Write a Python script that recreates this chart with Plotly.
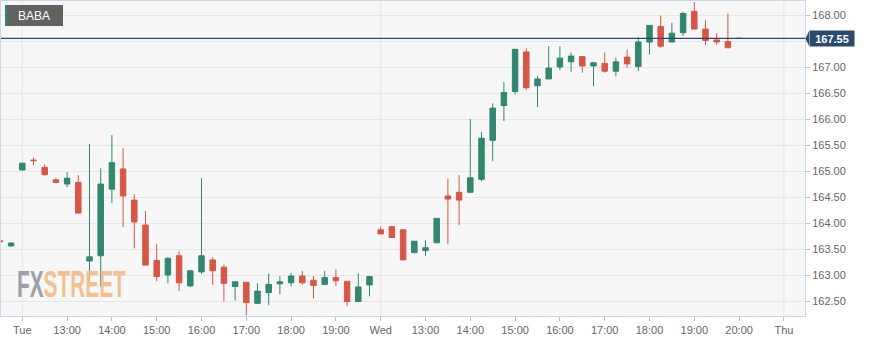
import numpy as np
import plotly.graph_objects as go

# ---------------- data ----------------
symbol = "BABA"
last_price = 167.55

candle_times = (["Mon 19:30", "Mon 19:45"]
                + [f"Tue {h}:{m:02d}" for h in range(12, 20) for m in (0, 15, 30, 45)]
                + [f"Wed {h}:{m:02d}" for h in range(12, 20) for m in (0, 15, 30, 45)]
                + ["Wed 20:00"])

opens = [163.66, 163.56,
         165.02, 165.21, 165.07, 164.83, 164.75, 164.78, 163.27, 163.37,
         164.65, 165.04, 164.44, 163.96, 163.28, 163.00, 163.37, 162.79,
         163.06, 163.29, 163.15, 162.78, 162.86, 162.455, 162.66, 162.83,
         162.85, 162.98, 162.90, 162.82, 162.95, 162.88, 162.49, 162.81,
         163.87, 163.93, 163.87, 163.43, 163.47, 163.62, 164.52, 164.59,
         164.59, 164.84, 165.59, 166.26, 166.53, 167.29, 166.64, 166.77,
         167.00, 167.10, 167.20, 167.02, 167.07, 166.92, 167.19, 167.01,
         167.48, 167.78, 167.48, 167.66, 168.07, 167.73, 167.52, 167.49,
         167.55]
highs = [163.69, 163.62,
         165.15, 165.26, 165.13, 164.87, 164.98, 164.92, 165.52, 165.05,
         165.69, 165.44, 164.55, 164.23, 163.60, 163.34, 163.45, 163.10,
         164.86, 163.34, 163.20, 162.87, 162.86, 162.84, 163.03, 162.98,
         163.04, 163.08, 162.98, 163.08, 163.11, 162.88, 163.03, 162.97,
         163.93, 163.93, 163.87, 163.65, 163.67, 164.09, 164.85, 164.92,
         166.00, 165.75, 166.30, 166.71, 167.34, 167.36, 166.83, 167.40,
         167.40, 167.28, 167.20, 167.10, 167.28, 167.18, 167.33, 167.57,
         167.80, 167.99, 167.85, 168.06, 168.25, 167.90, 167.65, 168.03,
         167.55]
lows = [163.62, 163.54,
        165.01, 165.11, 164.91, 164.77, 164.69, 164.19, 162.87, 162.78,
        164.38, 163.92, 163.51, 163.19, 162.88, 162.84, 162.69, 162.77,
        163.02, 162.81, 162.49, 162.51, 162.22, 162.45, 162.42, 162.63,
        162.78, 162.81, 162.55, 162.81, 162.79, 162.40, 162.49, 162.59,
        163.79, 163.72, 163.29, 163.43, 163.37, 163.62, 163.59, 163.96,
        164.59, 164.80, 165.19, 165.96, 166.47, 166.56, 166.23, 166.77,
        166.94, 166.91, 166.89, 166.63, 166.89, 166.82, 166.98, 166.92,
        167.24, 167.37, 167.48, 167.60, 167.73, 167.42, 167.43, 167.37,
        167.55]
closes = [163.64, 163.615,
          165.15, 165.20, 164.93, 164.78, 164.86, 164.19, 163.35, 164.75,
          165.16, 164.52, 164.02, 163.19, 162.97, 163.32, 162.85, 163.08,
          163.37, 163.08, 162.84, 162.87, 162.47, 162.69, 162.82, 162.87,
          162.98, 162.85, 162.80, 162.95, 162.89, 162.49, 162.77, 162.97,
          163.79, 163.72, 163.29, 163.65, 163.525, 164.09, 164.46, 164.44,
          164.87, 165.63, 166.21, 166.51, 167.34, 166.60, 166.77, 166.98,
          167.17, 167.21, 167.02, 167.08, 166.92, 167.10, 167.06, 167.48,
          167.80, 167.40, 167.65, 168.03, 167.73, 167.51, 167.48, 167.37,
          167.55]

tick_labels = ["Tue", "13:00", "14:00", "15:00", "16:00", "17:00", "18:00", "19:00",
               "Wed", "13:00", "14:00", "15:00", "16:00", "17:00", "18:00", "19:00",
               "20:00", "Thu"]
tick_slots = [0, 4, 8, 12, 16, 20, 24, 28, 32, 36, 40, 44, 48, 52, 56, 60, 64, 68]
day_labels = ["Tue", "Wed", "Thu"]
price_ticks = [162.5, 163.0, 163.5, 164.0, 164.5, 165.0, 165.5, 166.0, 166.5, 167.0, 167.5, 168.0]

# ---------------- styling ----------------
GREEN = "#31876f"
RED = "#d65748"
NAVY = "#2b4a70"
GRID = "#e6e6e6"
FRAME = "#ccd6eb"
TXT = "#666666"
FONT = "Liberation Sans, Arial, sans-serif"

W, H = 876, 342
ML, MR, MT, MB = 1, 71, 1, 26
PW, PH = W - ML - MR, H - MT - MB

def px_x(p):  # pixel -> paper x
    return (p - ML) / PW

def px_y(p):  # pixel -> paper y
    return (H - MB - p) / PH

first = candle_times.index("Tue 12:00")
slots = np.arange(len(opens)) - first
live = len(opens) - 1  # last (live) candle drawn neutral

fig = go.Figure()
fig.add_trace(go.Candlestick(
    x=slots[:live], open=opens[:live], high=highs[:live], low=lows[:live], close=closes[:live],
    increasing=dict(line=dict(color=GREEN, width=1), fillcolor=GREEN),
    decreasing=dict(line=dict(color=RED, width=1), fillcolor=RED),
    hoverinfo="skip", showlegend=False, text=candle_times[:live],
))
fig.add_trace(go.Candlestick(
    x=slots[live:], open=opens[live:], high=highs[live:], low=lows[live:], close=closes[live:],
    increasing=dict(line=dict(color="#5a6b7d", width=1), fillcolor="#5a6b7d"),
    decreasing=dict(line=dict(color="#5a6b7d", width=1), fillcolor="#5a6b7d"),
    hoverinfo="skip", showlegend=False,
))

x0 = -(22.3 - ML) / 11.2
x1 = x0 + PW / 11.2
y1 = 168 + 14 / 52
y0 = y1 - PH / 52

# the last-price tag hides the tick label it covers
price_text = ["" if abs(v - last_price) < 0.1 else f"{v:.2f}" for v in price_ticks]

shapes = []
for lab, s in zip(tick_labels, tick_slots):
    if lab in day_labels:
        shapes.append(dict(type="line", xref="x", yref="paper", x0=s, x1=s, y0=0, y1=1,
                           line=dict(color=GRID, width=1), layer="below"))
shapes.append(dict(type="line", xref="paper", yref="y", x0=0, x1=1, y0=last_price, y1=last_price,
                   line=dict(color=NAVY, width=1.3)))
tip, base = px_x(805.5), px_x(809)
dy = 7.5 / 52
shapes.append(dict(type="path", xref="paper", yref="y",
                   path=f"M {tip} {last_price} L {base} {last_price + dy} L {base} {last_price - dy} Z",
                   fillcolor=NAVY, line=dict(width=0)))
shapes.append(dict(type="rect", xref="paper", yref="paper",
                   x0=px_x(5), x1=px_x(63), y0=px_y(26), y1=px_y(5),
                   fillcolor="rgba(85,85,85,0.92)", line=dict(width=0)))
shapes.append(dict(type="rect", xref="paper", yref="paper",
                   x0=px_x(5), x1=px_x(7), y0=px_y(26), y1=px_y(5),
                   fillcolor=GREEN, line=dict(width=0)))

annotations = [
    dict(xref="paper", yref="paper", x=px_x(16), y=px_y(16), xanchor="left", yanchor="middle",
         text=symbol, showarrow=False, font=dict(family=FONT, size=12, color="white")),
    dict(xref="paper", yref="y", x=px_x(808.5), y=last_price, xanchor="left", yanchor="middle",
         text=f"<b>{last_price:.2f}</b>", showarrow=False, bgcolor=NAVY, borderpad=2,
         width=40, height=11, font=dict(family=FONT, size=11, color="white")),
    dict(xref="paper", yref="paper", x=px_x(15), y=px_y(284), xanchor="left", yanchor="middle",
         text='<b><span style="color:#9a9ba3">FX</span><span style="color:#f1bf8a">STREET</span></b>',
         showarrow=False, opacity=0.95,
         font=dict(family=FONT, size=37)),
]

fig.update_layout(
    width=W, height=H, margin=dict(l=ML, r=MR, t=MT, b=MB),
    paper_bgcolor="white", plot_bgcolor="#f7f7f7",
    font=dict(family=FONT, size=11, color=TXT),
    shapes=shapes, annotations=annotations, showlegend=False,
    hovermode=False,
    xaxis=dict(range=[x0, x1], tickvals=tick_slots, ticktext=tick_labels,
               showgrid=False, zeroline=False, rangeslider=dict(visible=False),
               showline=True, mirror=True, linecolor=FRAME, linewidth=1,
               ticks="outside", ticklen=4, tickcolor="#b8c0cc",
               tickfont=dict(family=FONT, size=11, color=TXT)),
    yaxis=dict(range=[y0, y1], side="right", tickvals=price_ticks, ticktext=price_text,
               showgrid=True, gridcolor=GRID, gridwidth=1, zeroline=False,
               showline=True, mirror=True, linecolor=FRAME, linewidth=1,
               ticks="outside", ticklen=4, tickcolor="#b8c0cc",
               tickfont=dict(family=FONT, size=11, color=TXT)),
)

# condense the watermark horizontally (the logo face is a narrow display font)
logo_js = """
var gd = document.getElementById('{plot_id}');
function squeezeLogo(){
  var nodes = gd.querySelectorAll('g.annotation text');
  nodes.forEach(function(t){
    if (t.textContent.indexOf('STREET') >= 0) {
      t.removeAttribute('transform');
      var bb = t.getBBox();
      var sx = 109 / bb.width;
      var cx = bb.x, cy = bb.y + bb.height / 2;
      t.setAttribute('transform', 'translate(' + cx + ',' + cy + ') scale(' + sx + ',1) translate(' + (-cx) + ',' + (-cy) + ')');
    }
  });
}
squeezeLogo();
gd.on('plotly_afterplot', squeezeLogo);
"""

fig.write_html("out.html", post_script=logo_js)
